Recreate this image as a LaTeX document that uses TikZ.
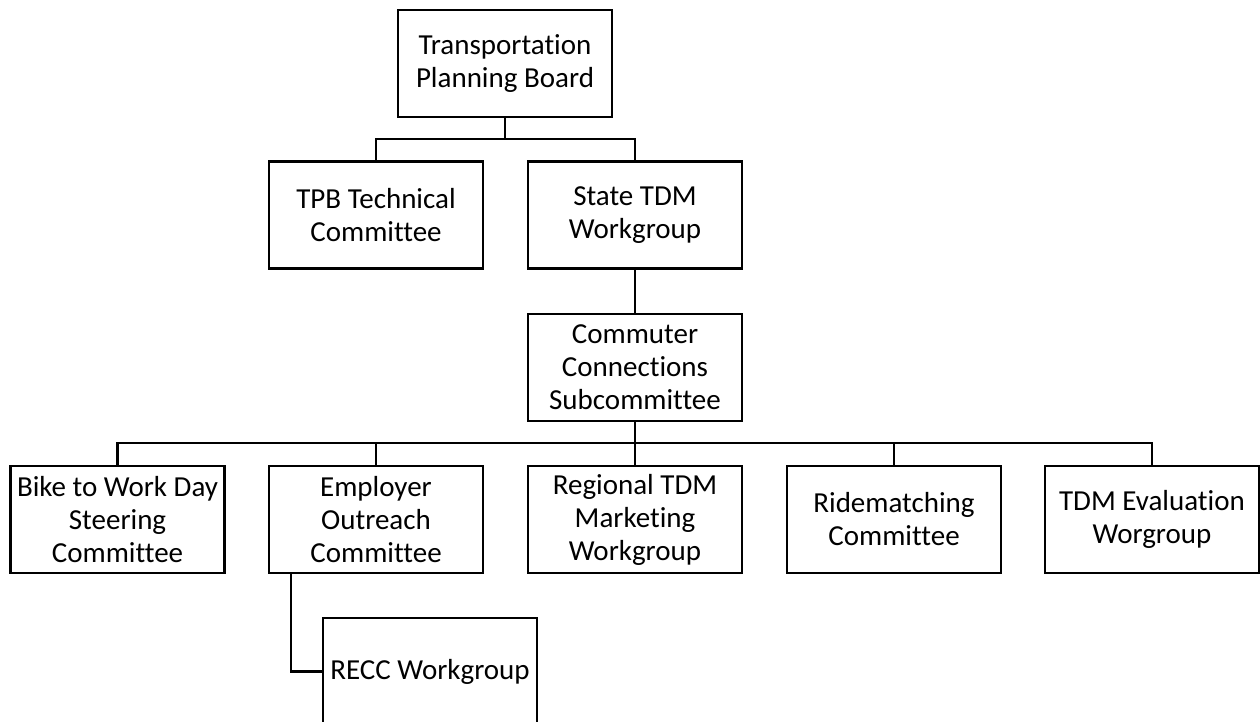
\documentclass[tikz,border=0pt]{standalone}
\usepackage{fontspec}
\setmainfont{Carlito}[Ligatures=NoCommon]
\usepackage{tikz}

\begin{document}
\begin{tikzpicture}[x=1pt,y=-1pt,
    box/.style={draw,line width=2.8pt,minimum width=214pt,minimum height=107pt,inner sep=0pt,align=center,font=\fontsize{29}{33}\selectfont},
    link/.style={line width=2.8pt}]
    \useasboundingbox (0,0) rectangle (1260,721);

    \node[box] (tpb) at (505,63.5) {Transportation\\Planning Board};
    \node[box] (tech) at (376,215) {TPB Technical\\Committee};
    \node[box] (state) at (635,215) {State TDM\\Workgroup};
    \node[box] (cc) at (635,367.5) {Commuter\\Connections\\Subcommittee};

    \node[box] (bike) at (117.5,519.5) {Bike to Work Day\\Steering\\Committee};
    \node[box] (employer) at (376,519.5) {Employer\\Outreach\\Committee};
    \node[box] (marketing) at (635,519.5) {Regional TDM\\Marketing\\Workgroup};
    \node[box] (ridematch) at (894,519.5) {Ridematching\\Committee};
    \node[box] (evaluation) at (1152,519.5) {TDM Evaluation\\Worgroup};
    \node[box] (recc) at (430,671.5) {RECC Workgroup};

    \coordinate (bus1) at (505,139);
    \coordinate (bus2) at (635,443);

    \draw[link] (tpb.south) -- (bus1) -| (tech.north);
    \draw[link] (bus1) -| (state.north);
    \draw[link] (state.south) -- (cc.north);
    \draw[link] (cc.south) -- (bus2);
    \foreach \n in {bike,employer,marketing,ridematch,evaluation}
        \draw[link] (bus2) -| (\n.north);
    \draw[link] ([xshift=-85pt]employer.south) |- (recc.west);
\end{tikzpicture}
\end{document}
